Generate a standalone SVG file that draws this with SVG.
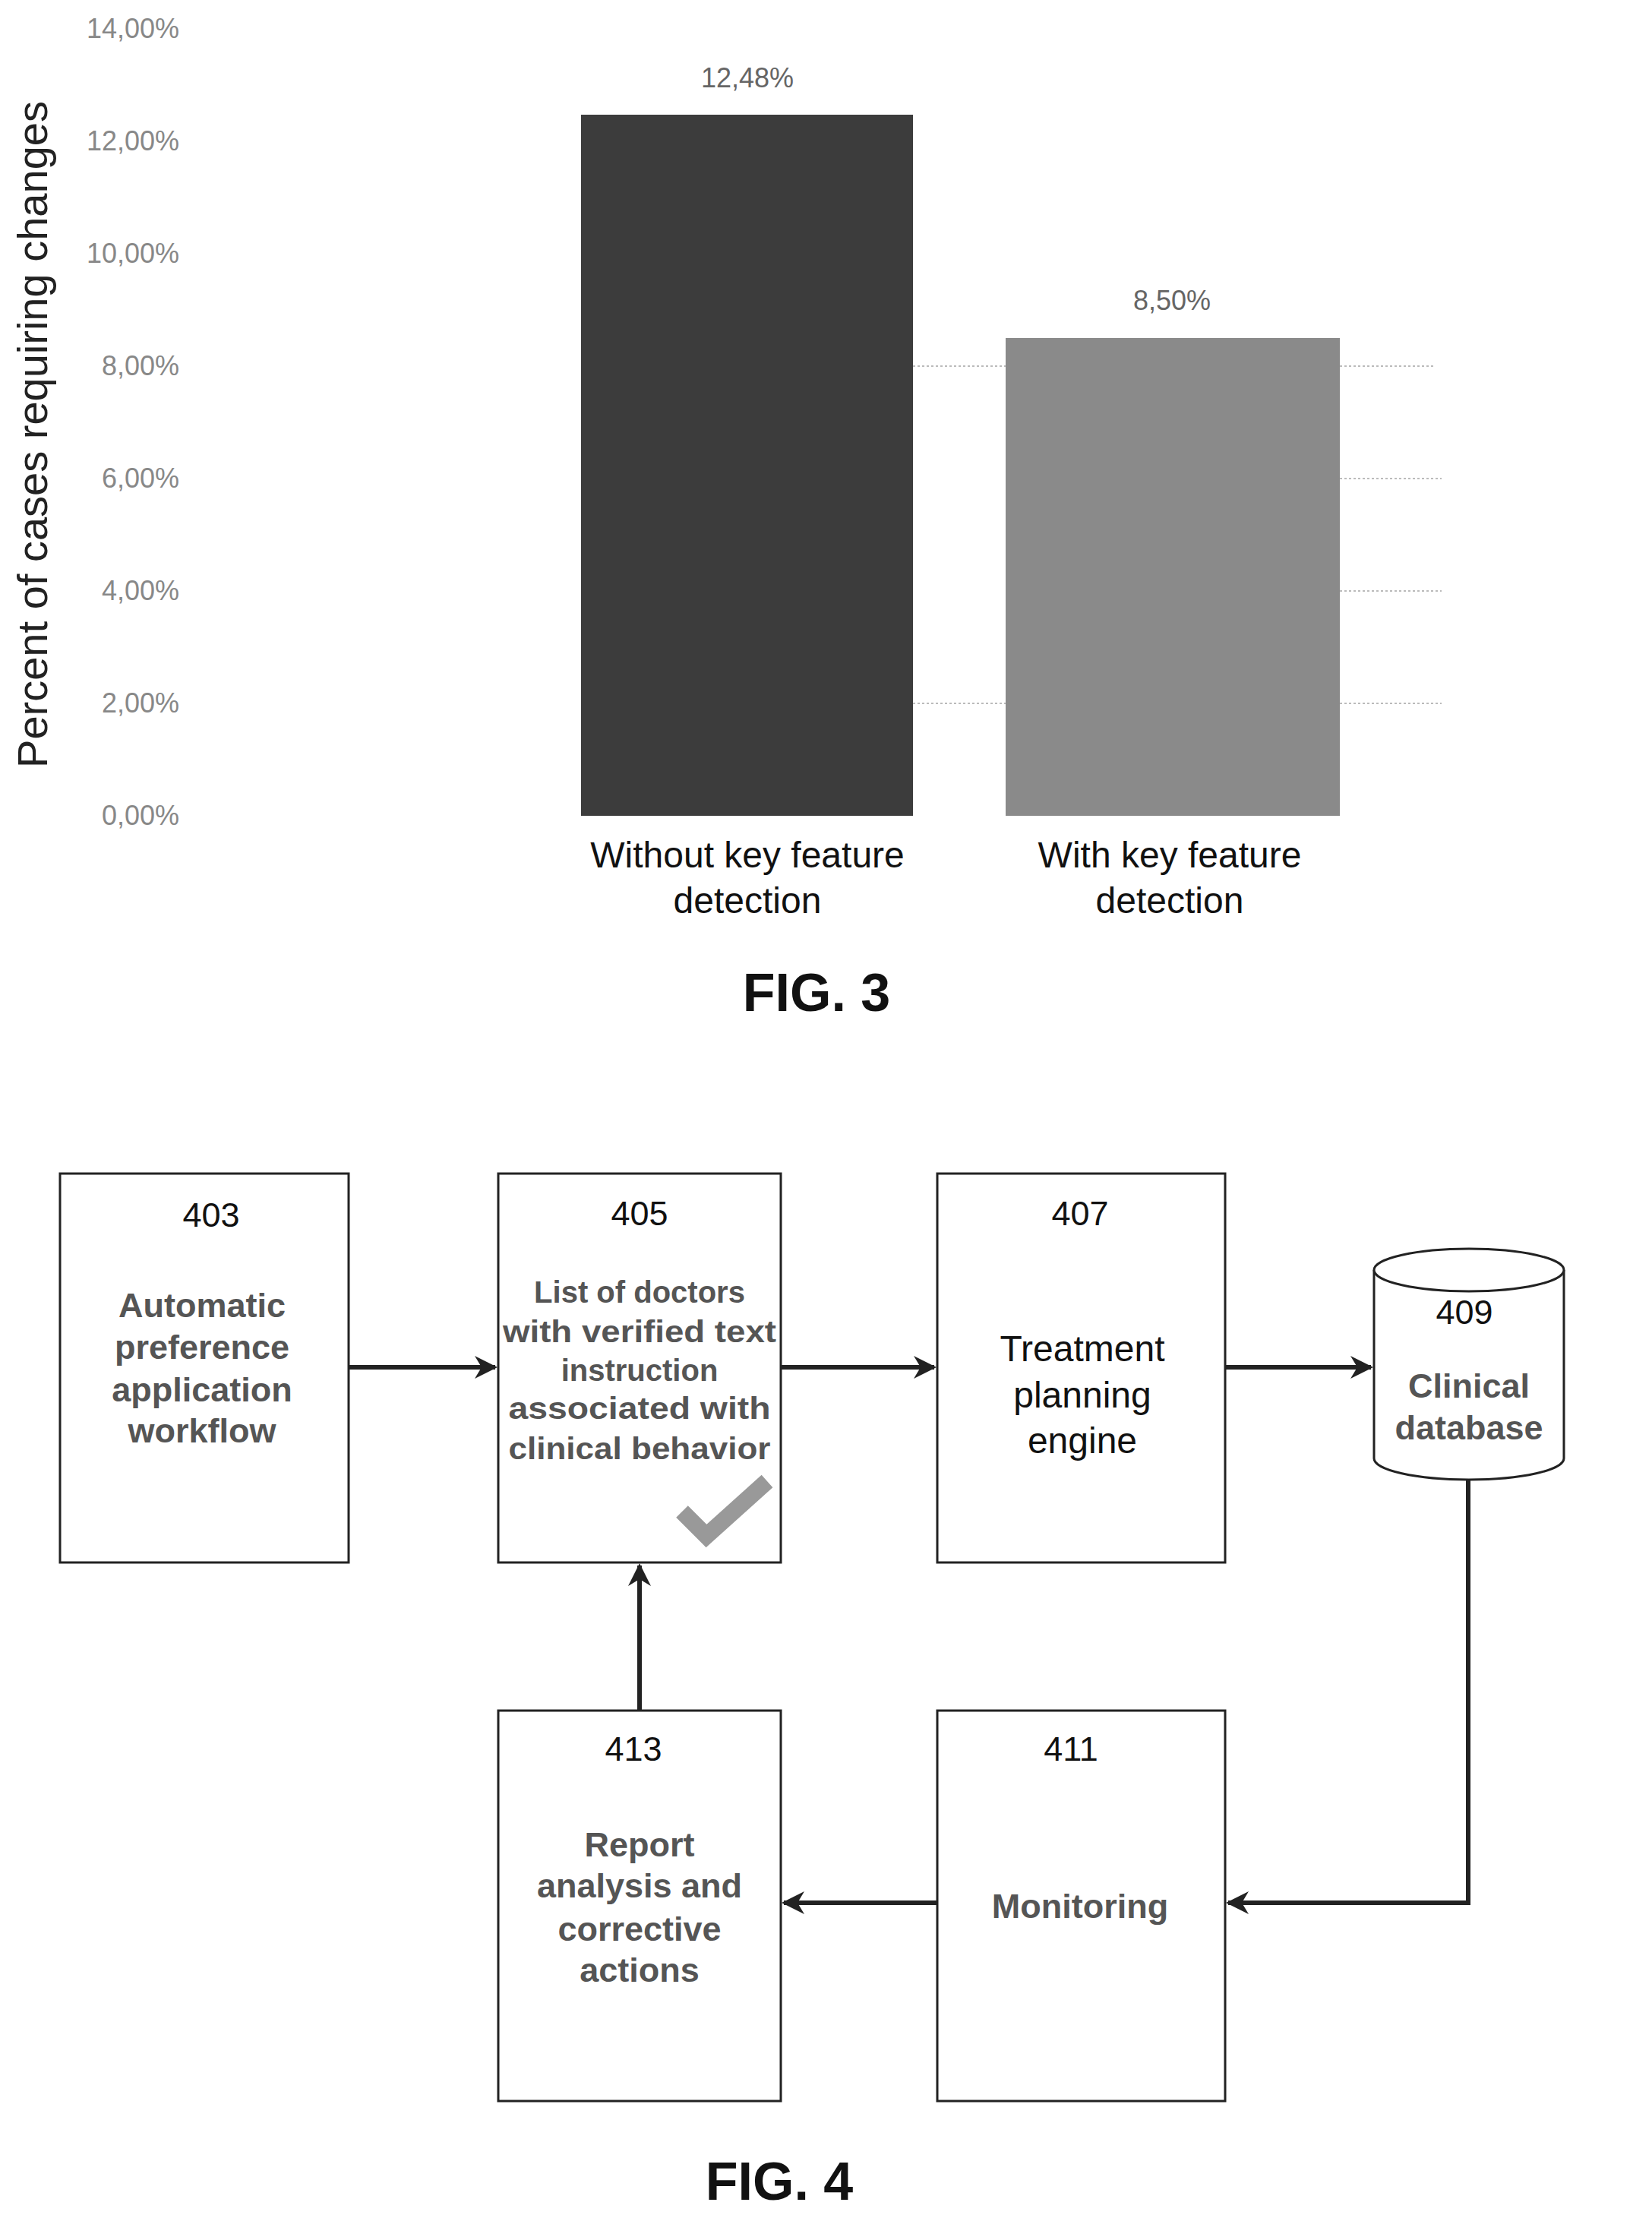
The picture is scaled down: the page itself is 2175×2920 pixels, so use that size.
<svg xmlns="http://www.w3.org/2000/svg" width="2175" height="2920" viewBox="0 0 2175 2920">
<style>
text{font-family:"Liberation Sans",Arial,sans-serif;text-anchor:middle}
.yl{font-size:36px;fill:#888;text-anchor:end;font-family:"Liberation Sans Narrow","Liberation Sans",sans-serif}
.val{font-size:36px;fill:#666}
.cat{font-size:48px;fill:#111}
.fig{font-size:70px;font-weight:bold;fill:#111}
.grid{stroke:#bbb;stroke-width:2;stroke-dasharray:3 3}
.box{fill:#fff;stroke:#222;stroke-width:3}
.num{font-size:45px;fill:#111}
.bt{font-size:45px;font-weight:bold;fill:#555}
.bs{font-size:40px;font-weight:bold;fill:#555}
.nt{font-size:48px;fill:#111}
.conn{fill:none;stroke:#222;stroke-width:6}
</style>
<defs>
<marker id="ah" viewBox="0 0 10 10" refX="9" refY="5" markerWidth="5" markerHeight="5" orient="auto" markerUnits="strokeWidth">
<path d="M0,0 L10,5 L0,10 L3,5 z" fill="#222"/>
</marker>
</defs>
<rect width="2175" height="2920" fill="#fff"/>
<g id="chart">
<line class="grid" x1="1202" y1="482" x2="1324" y2="482"/>
<line class="grid" x1="1764" y1="482" x2="1890" y2="482"/>
<line class="grid" x1="1764" y1="630" x2="1898" y2="630"/>
<line class="grid" x1="1764" y1="778" x2="1898" y2="778"/>
<line class="grid" x1="1202" y1="926" x2="1324" y2="926"/>
<line class="grid" x1="1764" y1="926" x2="1898" y2="926"/>
<rect x="765" y="151" width="437" height="923" fill="#3c3c3c"/>
<rect x="1324" y="445" width="440" height="629" fill="#8a8a8a"/>
<text class="yl" x="236" y="50">14,00%</text>
<text class="yl" x="236" y="198">12,00%</text>
<text class="yl" x="236" y="346">10,00%</text>
<text class="yl" x="236" y="494">8,00%</text>
<text class="yl" x="236" y="642">6,00%</text>
<text class="yl" x="236" y="790">4,00%</text>
<text class="yl" x="236" y="938">2,00%</text>
<text class="yl" x="236" y="1086">0,00%</text>
<text class="val" x="984" y="115">12,48%</text>
<text class="val" x="1543" y="408">8,50%</text>
<text x="0" y="0" font-size="56" fill="#222" transform="translate(62,572) rotate(-90)">Percent of cases requiring changes</text>
<text class="cat" x="984" y="1142">Without key feature</text>
<text class="cat" x="984" y="1202">detection</text>
<text class="cat" x="1540" y="1142">With key feature</text>
<text class="cat" x="1540" y="1202">detection</text>
<text class="fig" x="1075" y="1331">FIG. 3</text>
</g>
<g id="n403"><rect class="box" x="79" y="1545" width="380" height="512"/>
<text class="num" x="278" y="1615">403</text>
<text class="bt" x="266" y="1734">Automatic</text><text class="bt" x="266" y="1789">preference</text><text class="bt" x="266" y="1845">application</text><text class="bt" x="266" y="1899">workflow</text></g>
<g id="n405"><rect class="box" x="656" y="1545" width="372" height="512"/>
<text class="num" x="842" y="1613">405</text>
<text class="bs" x="842" y="1715">List of doctors</text><text class="bs" x="842" y="1767" textLength="360" lengthAdjust="spacingAndGlyphs">with verified text</text><text class="bs" x="842" y="1818">instruction</text><text class="bs" x="842" y="1868" textLength="345" lengthAdjust="spacingAndGlyphs">associated with</text><text class="bs" x="842" y="1921" textLength="345" lengthAdjust="spacingAndGlyphs">clinical behavior</text>
<path d="M898,1990 L930,2022 L1010,1950" fill="none" stroke="#999" stroke-width="22"/></g>
<g id="n407"><rect class="box" x="1234" y="1545" width="379" height="512"/>
<text class="num" x="1422" y="1613">407</text>
<text class="nt" x="1425" y="1792">Treatment</text><text class="nt" x="1425" y="1853">planning</text><text class="nt" x="1425" y="1913">engine</text></g>
<g id="n409"><path d="M1809,1672 A125,28 0 0 1 2059,1672 L2059,1920 A125,28 0 0 1 1809,1920 Z" class="box"/>
<path d="M1809,1672 A125,28 0 0 0 2059,1672" class="box" fill="none"/>
<text class="num" x="1928" y="1743">409</text>
<text class="bt" x="1934" y="1840">Clinical</text><text class="bt" x="1934" y="1895">database</text></g>
<g id="n413"><rect class="box" x="656" y="2252" width="372" height="514"/>
<text class="num" x="834" y="2318">413</text>
<text class="bt" x="842" y="2444">Report</text><text class="bt" x="842" y="2498">analysis and</text><text class="bt" x="842" y="2555">corrective</text><text class="bt" x="842" y="2609">actions</text></g>
<g id="n411"><rect class="box" x="1234" y="2252" width="379" height="514"/>
<text class="num" x="1410" y="2318">411</text>
<text class="bt" x="1422" y="2525">Monitoring</text></g>
<g id="connectors">
<line class="conn" x1="459" y1="1800" x2="652" y2="1800" marker-end="url(#ah)"/>
<line class="conn" x1="1028" y1="1800" x2="1230" y2="1800" marker-end="url(#ah)"/>
<line class="conn" x1="1613" y1="1800" x2="1805" y2="1800" marker-end="url(#ah)"/>
<path class="conn" d="M1933,1948 L1933,2505 L1617,2505" marker-end="url(#ah)"/>
<line class="conn" x1="1234" y1="2505" x2="1032" y2="2505" marker-end="url(#ah)"/>
<line class="conn" x1="842" y1="2252" x2="842" y2="2061" marker-end="url(#ah)"/>
</g>
<text class="fig" x="1026" y="2896">FIG. 4</text>
</svg>
